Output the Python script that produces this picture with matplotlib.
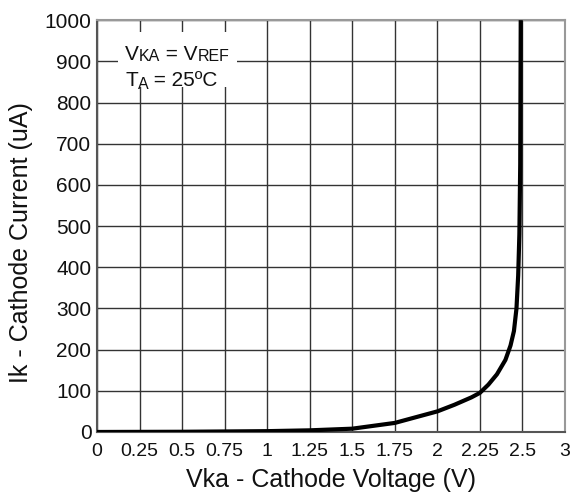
import matplotlib

matplotlib.use("Agg")
import matplotlib.pyplot as plt  # noqa: E402
from matplotlib.patches import Rectangle  # noqa: E402

# Cathode current vs cathode voltage, V_KA = V_REF, T_A = 25 C
vka = [0.0, 0.5, 1.0, 1.25, 1.5, 1.75, 2.0, 2.1, 2.2, 2.25, 2.3, 2.35, 2.4,
       2.43, 2.45, 2.465, 2.475, 2.482, 2.487, 2.49]
ik = [0.0, 0.5, 2.0, 4.0, 8.0, 22.0, 50.0, 66.0, 84.0, 95.0, 115.0, 140.0, 175.0,
      210.0, 245.0, 300.0, 380.0, 480.0, 650.0, 1000.0]

x_ticks = [0, 0.25, 0.5, 0.75, 1, 1.25, 1.5, 1.75, 2, 2.25, 2.5, 2.75]
x_labels = ["0", "0.25", "0.5", "0.75", "1", "1.25", "1.5", "1.75", "2", "2.25", "2.5", "3"]
y_ticks = list(range(0, 1001, 100))

plt.rcParams["font.family"] = ["Liberation Sans", "DejaVu Sans"]

fig = plt.figure(figsize=(5.73, 5.04), dpi=100)
ax = fig.add_axes([0.1693, 0.1429, 0.8167, 0.8171])

ax.plot(vka, ik, color="black", linewidth=3.0, solid_capstyle="butt", zorder=3)

ax.set_xlim(0, 2.75)
ax.set_ylim(0, 1000)
ax.set_xticks(x_ticks)
ax.set_xticklabels(x_labels)
ax.set_yticks(y_ticks)
ax.tick_params(length=0, colors="#111111")
ax.tick_params(axis="x", pad=8, labelsize=14)
ax.tick_params(axis="y", pad=4, labelsize=15)
ax.grid(True, color="#333333", linewidth=1.0)
ax.set_axisbelow(True)

for side in ("left", "bottom"):
    ax.spines[side].set_color("#555555")
    ax.spines[side].set_linewidth(1.5)
for side in ("top", "right"):
    ax.spines[side].set_color("#999999")
    ax.spines[side].set_linewidth(1.5)

ax.set_xlabel("Vka - Cathode Voltage (V)", fontsize=18, labelpad=6, color="#111111")
ax.set_ylabel("Ik - Cathode Current (uA)", fontsize=18, color="#111111")
ax.yaxis.set_label_coords(-0.137, 0.46)

# white box behind the condition note
ax.add_patch(Rectangle((0.045, 0.837), 0.254, 0.134, transform=ax.transAxes,
                       facecolor="white", edgecolor="none", zorder=1.5))

big, small = 15, 11.5
tc = "#111111"


def chain(prev, s, size, dy=0):
    # put text s right after prev, sharing its bottom edge
    return ax.annotate(s, xy=(1, 0), xycoords=prev, xytext=(0, dy),
                       textcoords="offset points", fontsize=size, color=tc,
                       va="bottom", ha="left", zorder=2)


t = ax.text(0.06, 0.893, "V", transform=ax.transAxes, fontsize=big,
            va="bottom", ha="left", color=tc, zorder=2)
t = chain(t, "KA", small)
t = chain(t, " = V", big)
chain(t, "REF", small)

t = ax.text(0.06, 0.83, "T", transform=ax.transAxes, fontsize=big,
            va="bottom", ha="left", color=tc, zorder=2)
t = chain(t, "A", small, dy=-1.5)
chain(t, " = 25\u00baC", big, dy=1.5)

fig.savefig("out.png", dpi=100)
